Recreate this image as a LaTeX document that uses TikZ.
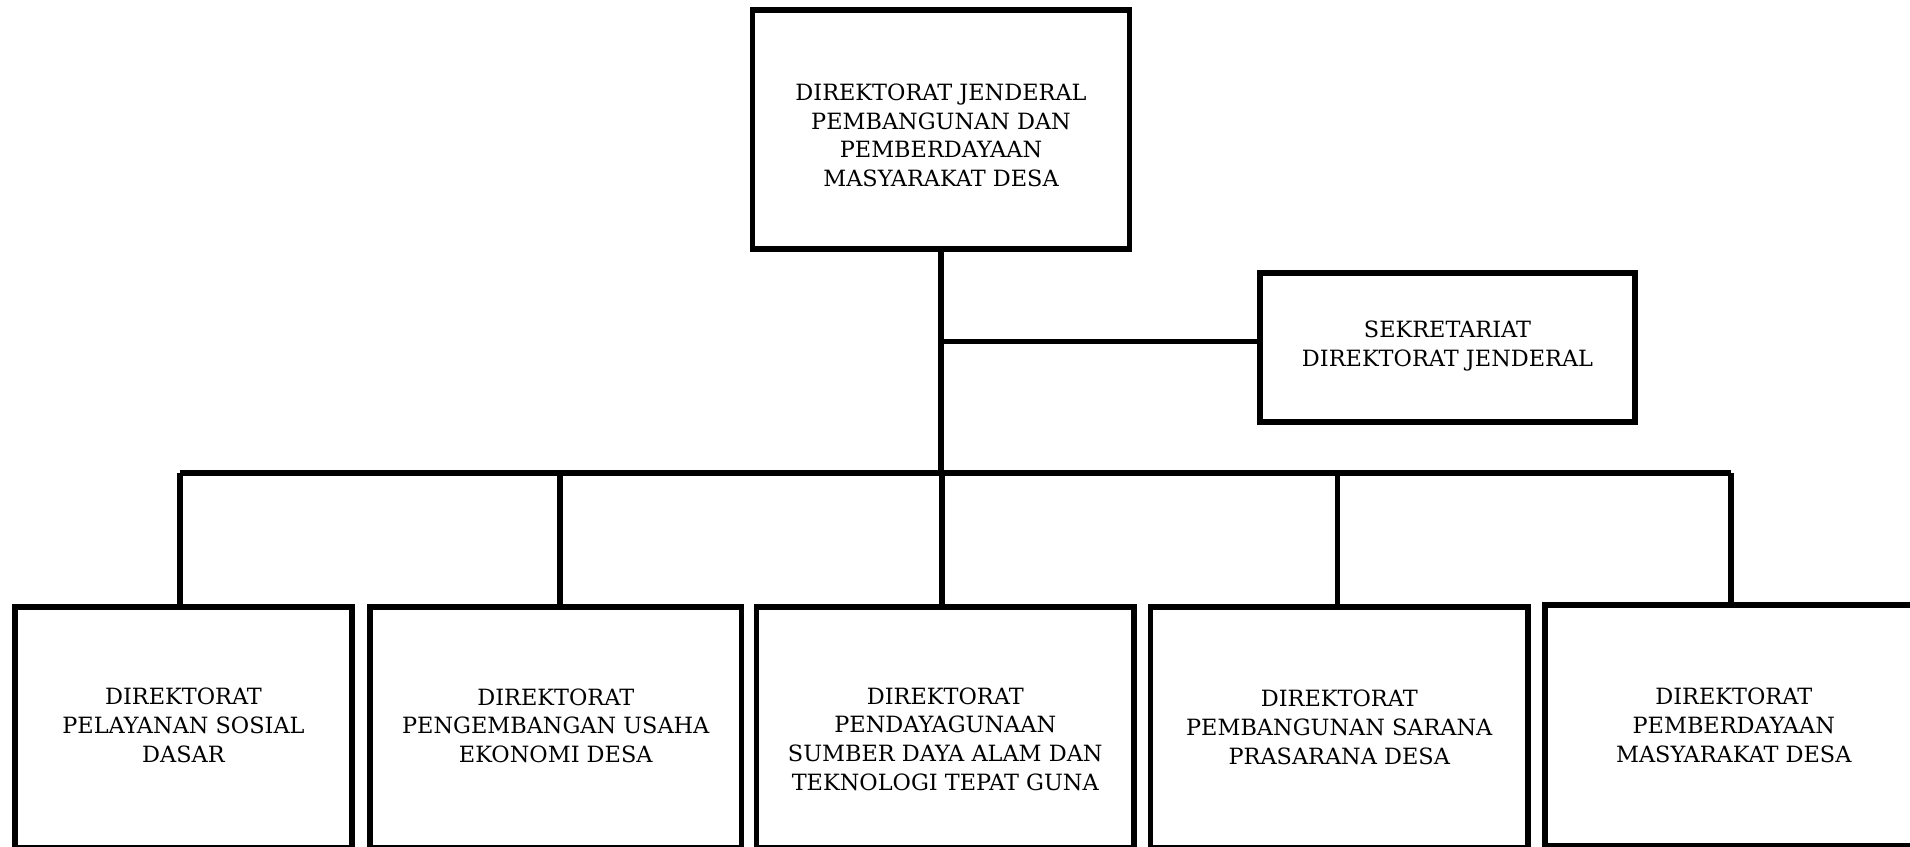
\documentclass[tikz,border=0pt]{standalone}
\usepackage{fontspec}
\setmainfont{DejaVu Serif}

\begin{document}
\begin{tikzpicture}[x=0.5pt,y=-0.5pt,
  unit/.style={draw,line width=2.75pt,align=center,inner sep=0pt,
    font=\fontsize{11.2}{14.4}\selectfont},
  dirbox/.style={unit,minimum height=120.5pt},
  link/.style={line width=2.75pt}]
  \useasboundingbox (0,0) rectangle (1910,846);
  % pimpinan
  \node [unit,minimum width=188.5pt,minimum height=119.5pt] (ditjen) at (941,129.5)
    {\rule{0pt}{14.2pt}DIREKTORAT JENDERAL\\PEMBANGUNAN DAN\\PEMBERDAYAAN\\MASYARAKAT DESA};
  \node [unit,minimum width=187.5pt,minimum height=74.5pt] (sekr) at (1447.5,347.5)
    {SEKRETARIAT\\DIREKTORAT JENDERAL\rule[-4pt]{0pt}{4pt}};
  % direktorat
  \node [dirbox,minimum width=168.5pt] (dir1) at (183.5,727.5)
    {DIREKTORAT\\PELAYANAN SOSIAL\\DASAR\rule[-2.4pt]{0pt}{2.4pt}};
  \node [dirbox,minimum width=185.75pt] (dir2) at (555.75,727.5)
    {DIREKTORAT\\PENGEMBANGAN USAHA\\EKONOMI DESA\rule[-2pt]{0pt}{2pt}};
  \node [dirbox,minimum width=188.75pt] (dir3) at (945.25,727.5)
    {\rule{0pt}{20pt}DIREKTORAT\\PENDAYAGUNAAN\\SUMBER DAYA ALAM DAN\\TEKNOLOGI TEPAT GUNA};
  \node [dirbox,minimum width=188.75pt] (dir4) at (1339.25,727.5)
    {DIREKTORAT\\PEMBANGUNAN SARANA\\PRASARANA DESA};
  \node [dirbox,minimum width=188.75pt] (dir5) at (1733.75,725.5)
    {DIREKTORAT\\PEMBERDAYAAN\\MASYARAKAT DESA};
  % garis
  \coordinate (bus) at (941,473);
  \draw [link] (ditjen.south) -- (bus);
  \draw [link] (ditjen.south |- sekr.west) ++(0,-6) -- ([yshift=3pt]sekr.west);
  \draw [link] ([xshift=-1.75pt]dir1.north |- bus) -- ([xshift=-1.5pt]dir5.north |- bus);
  \draw [link] ([xshift=-1.75pt]dir1.north) -- ([xshift=-1.75pt]dir1.north |- bus);
  \draw [link] ([xshift=2.1pt]dir2.north) -- ([xshift=2.1pt]dir2.north |- bus);
  \draw [link] ([xshift=-1.6pt]dir3.north) -- ([xshift=-1.6pt]dir3.north |- bus);
  \draw [link] ([xshift=-1pt]dir4.north) -- ([xshift=-1pt]dir4.north |- bus);
  \draw [link] ([xshift=-1.5pt]dir5.north) -- ([xshift=-1.5pt]dir5.north |- bus);
\end{tikzpicture}
\end{document}
